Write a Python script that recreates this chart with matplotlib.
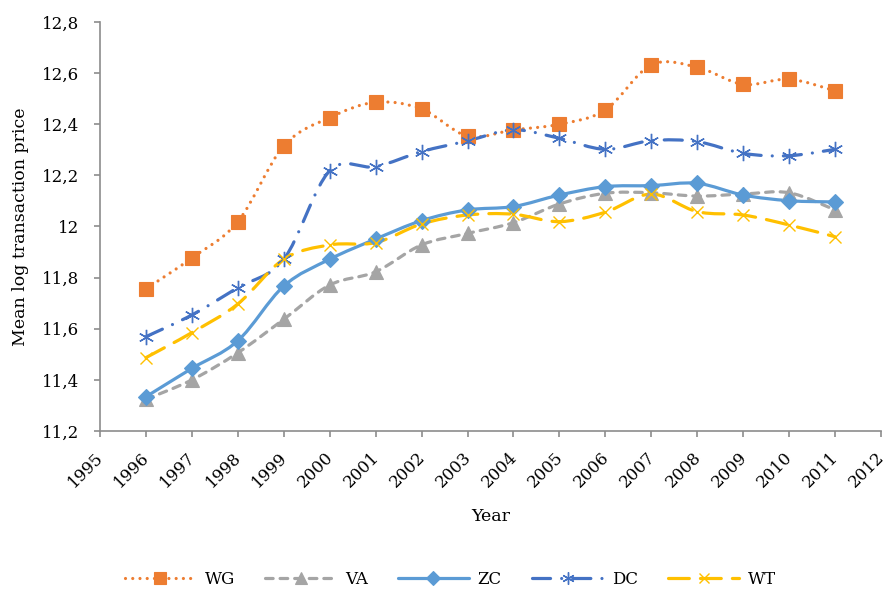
import matplotlib
matplotlib.use("Agg")
import matplotlib.pyplot as plt
import matplotlib.transforms as mtransforms
import numpy as np
from matplotlib.path import Path
from matplotlib.patches import PathPatch
from matplotlib.lines import Line2D
from matplotlib.ticker import FuncFormatter, MultipleLocator

plt.rcParams['font.family'] = ['DejaVu Serif']
plt.rcParams['lines.scale_dashes'] = False

years = [1996, 1997, 1998, 1999, 2000, 2001, 2002, 2003, 2004, 2005, 2006, 2007, 2008, 2009, 2010, 2011]
wg = [11.756, 11.877, 12.019, 12.315, 12.426, 12.486, 12.460, 12.354, 12.378, 12.400, 12.456, 12.632, 12.623, 12.556, 12.576, 12.531]
va = [11.324, 11.400, 11.506, 11.637, 11.771, 11.823, 11.928, 11.973, 12.015, 12.088, 12.130, 12.132, 12.119, 12.127, 12.132, 12.065]
zc = [11.334, 11.445, 11.553, 11.767, 11.872, 11.951, 12.023, 12.065, 12.078, 12.123, 12.156, 12.160, 12.169, 12.123, 12.101, 12.096]
dc = [11.569, 11.654, 11.761, 11.872, 12.218, 12.234, 12.293, 12.335, 12.378, 12.345, 12.302, 12.336, 12.332, 12.286, 12.277, 12.302]
wt = [11.487, 11.585, 11.697, 11.872, 11.928, 11.937, 12.010, 12.045, 12.048, 12.019, 12.056, 12.127, 12.058, 12.045, 12.006, 11.960]

series_names = ['WG', 'VA', 'ZC', 'DC', 'WT']
series_vals = [wg, va, zc, dc, wt]

styles = {
    'WG': dict(color='#ED7D31', ls=(0, (0.01, 5.2)), lw=2.3, marker='s', ms=10, mew=0.8, cap='round'),
    'VA': dict(color='#A5A5A5', ls=(0, (5.5, 5.0)), lw=2.3, marker='^', ms=10, mew=0.8, cap='round'),
    'ZC': dict(color='#5B9BD5', ls='-', lw=2.3, marker='D', ms=8.5, mew=0.8, cap='round'),
    'DC': dict(color='#4472C4', ls=(0, (13, 8, 0.01, 8)), lw=2.3, marker=(6, 2, 0), ms=11, mew=1.0, cap='round'),
    'WT': dict(color='#FFC000', ls=(0, (15, 8)), lw=2.3, marker='x', ms=9, mew=1.0, cap='round'),
}


def smooth_path(xs, ys):
    P = np.column_stack([xs, ys]).astype(float)
    n = len(P)
    verts = [P[0]]
    codes = [Path.MOVETO]
    for i in range(n - 1):
        p0 = P[i - 1] if i > 0 else P[i]
        p1 = P[i]
        p2 = P[i + 1]
        p3 = P[i + 2] if i + 2 < n else P[i + 1]
        c1 = p1 + (p2 - p0) / 6.0
        c2 = p2 - (p3 - p1) / 6.0
        verts += [c1, c2, p2]
        codes += [Path.CURVE4] * 3
    return Path(np.array(verts), codes)


fig = plt.figure(figsize=(8.88, 5.99), dpi=100)
ax = fig.add_axes([100 / 888, 1 - 431 / 599, (881 - 100) / 888, (431 - 22) / 599])

handles = []
for name, vals in zip(series_names, series_vals):
    st = styles[name]
    patch = PathPatch(smooth_path(years, vals), fill=False, edgecolor=st['color'],
                      linewidth=st['lw'], linestyle=st['ls'], capstyle=st['cap'],
                      joinstyle='round', zorder=2)
    ax.add_patch(patch)
    ax.plot(years, vals, linestyle='none', marker=st['marker'], markersize=st['ms'],
            color=st['color'], markeredgecolor=st['color'], markeredgewidth=st['mew'], zorder=3)
    h = Line2D([], [], color=st['color'], linewidth=st['lw'], linestyle=st['ls'],
               marker=st['marker'], markersize=st['ms'] * 0.8, markeredgewidth=st['mew'],
               dash_capstyle=st['cap'], solid_capstyle='round')
    handles.append(h)

ax.set_xlim(1995, 2012)
ax.set_ylim(11.2, 12.8)
ax.xaxis.set_major_locator(MultipleLocator(1))
ax.yaxis.set_major_locator(MultipleLocator(0.2))
ax.yaxis.set_major_formatter(FuncFormatter(lambda v, p: ('%g' % round(v, 1)).replace('.', ',')))
ax.xaxis.set_major_formatter(FuncFormatter(lambda v, p: '%d' % round(v)))

for s in ['top', 'right']:
    ax.spines[s].set_visible(False)
for s in ['left', 'bottom']:
    ax.spines[s].set_color('#8C8C8C')
    ax.spines[s].set_linewidth(1.2)

ax.tick_params(axis='both', colors='#8C8C8C', length=4, width=1.2, labelcolor='black', labelsize=12)
ax.tick_params(axis='y', pad=11)
ax.tick_params(axis='x', pad=9)
offset = mtransforms.ScaledTranslation(-5 / 100, 0, fig.dpi_scale_trans)
for lab in ax.get_xticklabels():
    lab.set_rotation(45)
    lab.set_ha('right')
    lab.set_va('top')
    lab.set_rotation_mode('anchor')
    lab.set_transform(lab.get_transform() + offset)

ax.set_ylabel('Mean log transaction price', fontsize=12.5, labelpad=9)
ax.set_xlabel('Year', fontsize=12.5, labelpad=12)

fig.legend(handles, series_names, loc='center', bbox_to_anchor=(0.507, 0.032), ncol=5,
           frameon=False, fontsize=12, handlelength=4.3, columnspacing=1.8, handletextpad=0.5)

fig.savefig('out.png', dpi=100)
